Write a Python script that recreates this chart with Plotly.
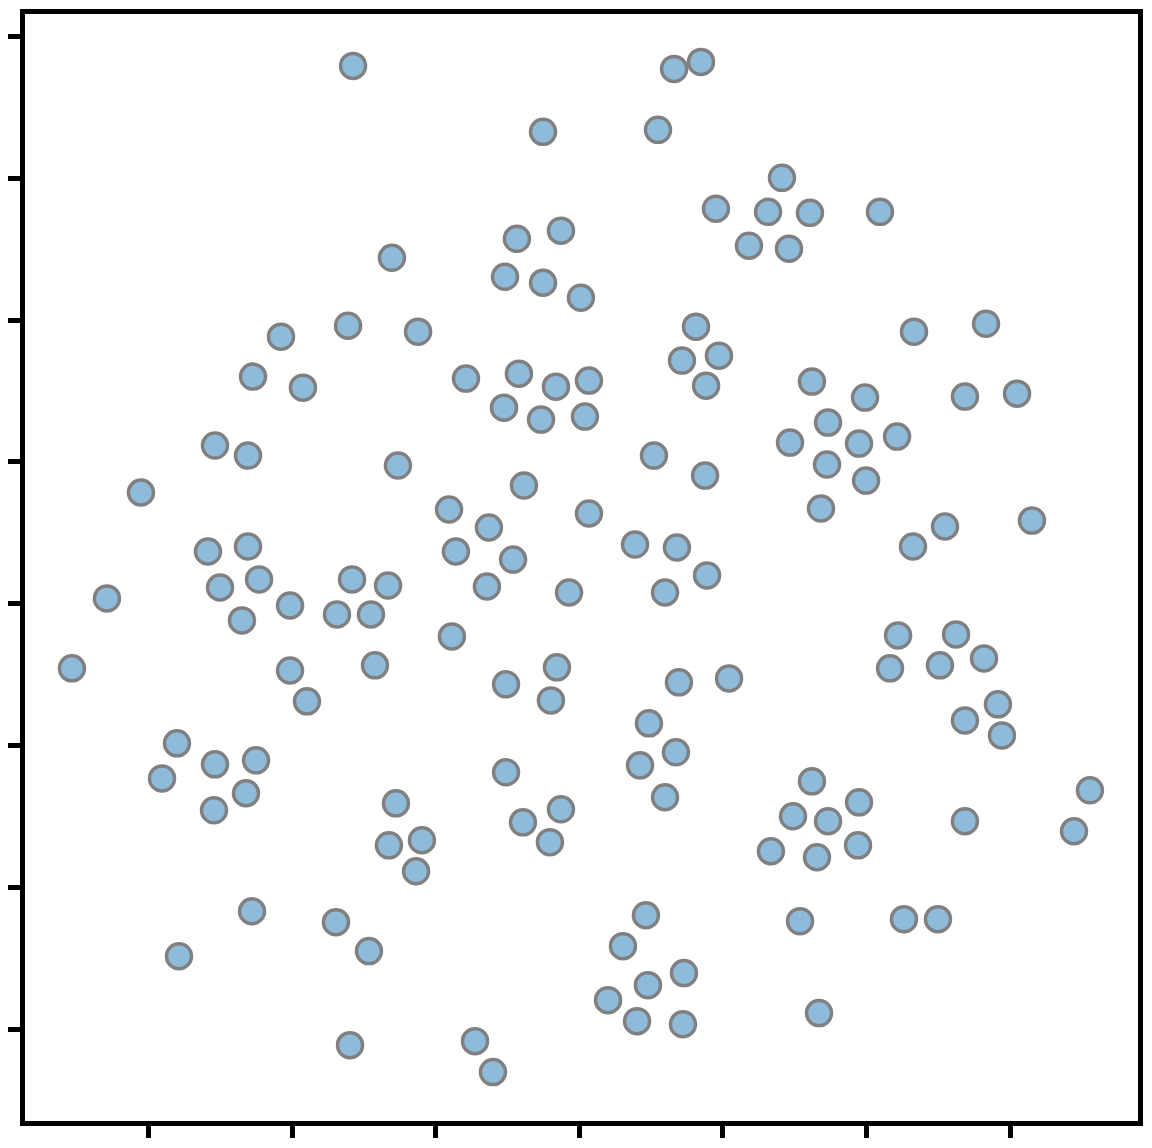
import plotly.graph_objects as go

x_vals = [
    2.422, 4.659, 4.847, 3.746, 4.547, 5.411, 4.951, 5.314, 5.606, 6.094,
    5.181, 5.460, 3.564, 3.871, 2.693, 3.481, 3.746, 4.010, 1.920, 2.387,
    2.875, 4.812, 6.331, 6.833, 4.714, 4.972, 1.725, 2.073, 3.209, 3.578,
    3.836, 4.066, 4.882, 5.620, 5.990, 6.686, 7.049, 3.474, 3.732, 4.038,
    5.732, 5.467, 5.948, 6.213, 1.460, 1.690, 2.735, 4.519, 4.875, 5.725,
    5.997, 0.944, 3.613, 3.091, 4.066, 5.683, 3.369, 6.547, 7.153, 1.411,
    1.690, 3.139, 3.537, 4.387, 4.679, 6.324, 1.767, 1.495, 2.415, 2.666,
    4.889, 0.707, 3.355, 3.927, 4.596, 1.983, 1.648, 2.310, 2.547, 3.111,
    6.220, 6.624, 0.463, 1.983, 2.575, 3.843, 6.164, 6.512, 6.819, 2.101,
    3.488, 3.801, 4.693, 5.042, 6.916, 6.686, 6.944, 4.484, 1.195, 1.460,
    1.746, 1.091, 4.672, 4.422, 3.488, 1.676, 1.453, 5.620, 7.557, 4.596,
    2.721, 3.871, 5.948, 5.488, 5.732, 6.686, 7.446, 3.606, 2.672, 2.902,
    3.794, 5.941, 5.334, 5.655, 2.861, 1.718, 4.463, 2.303, 5.537, 6.261,
    6.498, 1.209, 2.533, 4.303, 4.728, 4.477, 4.199, 4.401, 4.721, 5.669,
    2.401, 3.272, 3.397,
]

y_vals = [
    6.792, 6.771, 6.820, 6.327, 6.341, 6.003, 5.785, 5.763, 5.756, 5.763,
    5.524, 5.503, 5.573, 5.630, 5.439, 5.305, 5.263, 5.157, 4.883, 4.960,
    4.918, 4.953, 4.918, 4.974, 4.714, 4.749, 4.601, 4.523, 4.587, 4.622,
    4.530, 4.573, 4.537, 4.566, 4.453, 4.460, 4.481, 4.382, 4.298, 4.319,
    4.277, 4.136, 4.129, 4.178, 4.115, 4.044, 3.974, 4.044, 3.903, 3.981,
    3.868, 3.784, 3.833, 3.664, 3.636, 3.671, 3.537, 3.544, 3.586, 3.368,
    3.403, 3.368, 3.311, 3.417, 3.396, 3.403, 3.171, 3.114, 3.171, 3.128,
    3.199, 3.037, 3.121, 3.079, 3.079, 2.987, 2.882, 2.924, 2.924, 2.769,
    2.776, 2.783, 2.544, 2.529, 2.565, 2.551, 2.544, 2.565, 2.614, 2.311,
    2.431, 2.318, 2.445, 2.473, 2.290, 2.177, 2.071, 2.156, 2.015, 1.867,
    1.895, 1.768, 1.952, 1.860, 1.811, 1.663, 1.543, 1.747, 1.684, 1.635,
    1.592, 1.550, 1.599, 1.501, 1.466, 1.466, 1.395, 1.458, 1.296, 1.332,
    1.318, 1.296, 1.254, 1.212, 1.113, 0.831, 0.803, 0.754, 0.761, 0.775,
    0.775, 0.514, 0.550, 0.585, 0.395, 0.310, 0.204, 0.056, 0.035, 0.113,
    -0.113, -0.085, -0.303,
]

x_ticks = [1, 2, 3, 4, 5, 6, 7]
y_ticks = [0, 1, 2, 3, 4, 5, 6, 7]

fig = go.Figure(
    go.Scatter(
        x=x_vals,
        y=y_vals,
        mode="markers",
        marker=dict(
            size=25,
            color="#8fbbdb",
            line=dict(color="#808080", width=3.5),
        ),
        hoverinfo="skip",
    )
)

axis_common = dict(
    showline=True,
    linecolor="black",
    linewidth=5,
    mirror=True,
    ticks="outside",
    ticklen=12,
    tickwidth=4.5,
    tickcolor="black",
    showticklabels=False,
    showgrid=False,
    zeroline=False,
)

fig.update_xaxes(range=[0.136, 7.892], tickvals=x_ticks, **axis_common)
fig.update_yaxes(range=[-0.648, 7.158], tickvals=y_ticks, **axis_common)

fig.update_layout(
    width=1152,
    height=1148,
    margin=dict(l=25, r=10, t=9, b=27),
    plot_bgcolor="white",
    paper_bgcolor="white",
    showlegend=False,
)

fig.write_html(
    "out.html",
    config={"displayModeBar": False},
    post_script="document.body.style.margin='0';document.body.style.overflow='hidden';",
)
